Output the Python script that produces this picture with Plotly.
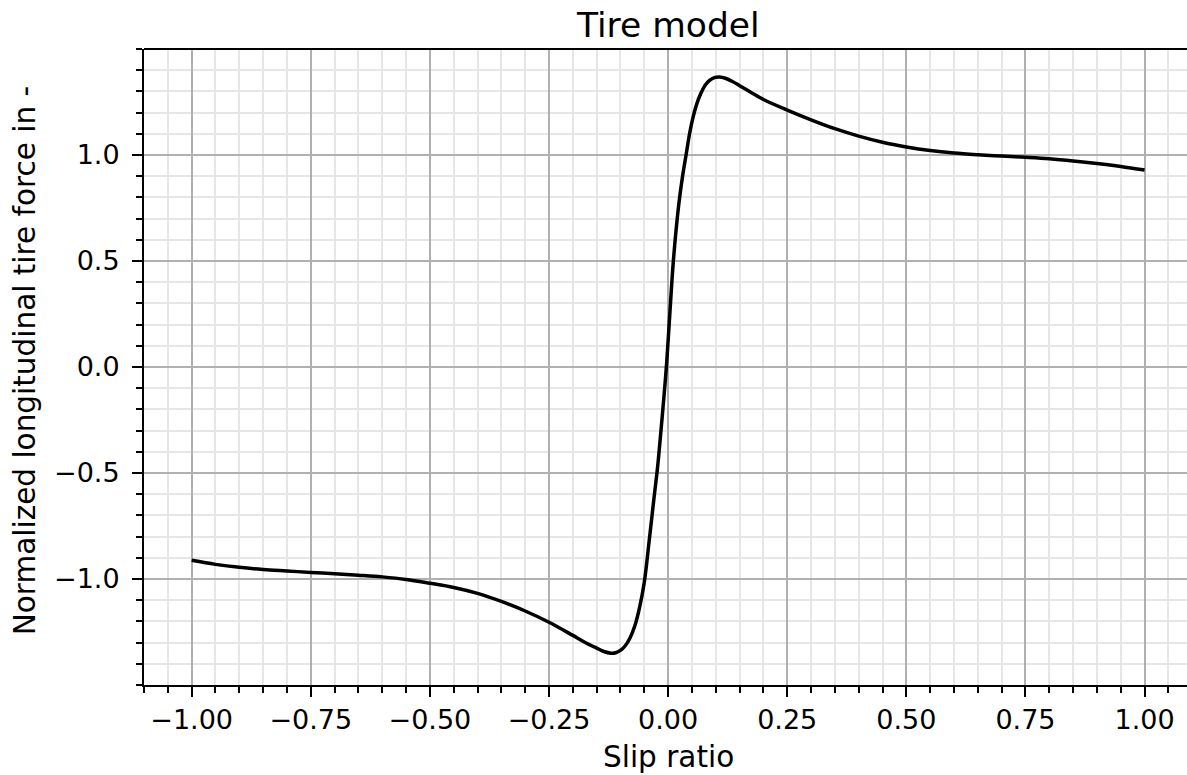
import plotly.graph_objects as go

# Slip ratio (x) and normalized longitudinal tire force (y)
slip = [-1.00, -0.95, -0.90, -0.85, -0.80, -0.75, -0.70, -0.65, -0.60, -0.55,
        -0.50, -0.45, -0.40, -0.35, -0.30, -0.25, -0.20, -0.175, -0.15, -0.135,
        -0.12, -0.11, -0.10, -0.09, -0.08, -0.07, -0.06, -0.05, -0.04, -0.03,
        -0.022, -0.015, -0.008, -0.003, 0.003, 0.011, 0.022, 0.030, 0.038, 0.045,
        0.052, 0.060, 0.069, 0.078, 0.087, 0.097, 0.108, 0.120, 0.135, 0.151,
        0.175, 0.20, 0.25, 0.30, 0.35, 0.40, 0.45, 0.50, 0.55, 0.60,
        0.65, 0.70, 0.75, 0.80, 0.85, 0.90, 0.95, 1.00]
force = [-0.912, -0.931, -0.945, -0.955, -0.962, -0.969, -0.975, -0.982, -0.990, -1.002,
         -1.020, -1.040, -1.068, -1.106, -1.151, -1.204, -1.266, -1.298, -1.326, -1.342,
         -1.350, -1.348, -1.337, -1.315, -1.278, -1.222, -1.135, -1.015, -0.825, -0.625,
         -0.470, -0.300, -0.120, 0.020, 0.230, 0.500, 0.760, 0.895, 1.005, 1.100,
         1.175, 1.240, 1.292, 1.330, 1.352, 1.365, 1.368, 1.362, 1.347, 1.326,
         1.294, 1.262, 1.212, 1.166, 1.124, 1.089, 1.060, 1.038, 1.021, 1.009,
         1.001, 0.995, 0.989, 0.982, 0.972, 0.960, 0.946, 0.929]

x_tickvals = [-1.00, -0.75, -0.50, -0.25, 0.00, 0.25, 0.50, 0.75, 1.00]
x_ticktext = ["\u22121.00", "\u22120.75", "\u22120.50", "\u22120.25", "0.00",
              "0.25", "0.50", "0.75", "1.00"]
y_tickvals = [-1.0, -0.5, 0.0, 0.5, 1.0]
y_ticktext = ["\u22121.0", "\u22120.5", "0.0", "0.5", "1.0"]

FONT = "DejaVu Sans"
MAJOR_GRID = "#b0b0b0"
MINOR_GRID = "#e6e6e6"

fig = go.Figure()
fig.add_trace(go.Scatter(
    x=slip, y=force, mode="lines",
    line=dict(color="black", width=3.5, shape="spline", smoothing=1.0),
    showlegend=False, hoverinfo="skip",
))

axis_common = dict(
    showline=True, linecolor="black", linewidth=2,
    ticks="outside", ticklen=10, tickwidth=2, tickcolor="black",
    showgrid=True, gridcolor=MAJOR_GRID, gridwidth=2,
    zeroline=False, tickfont=dict(family=FONT, size=27, color="black"),
)

fig.update_xaxes(
    range=[-1.100, 1.089], tickmode="array",
    tickvals=x_tickvals, ticktext=x_ticktext, ticklabelstandoff=0,
    minor=dict(tick0=0, dtick=0.05, ticks="outside", ticklen=6, tickwidth=1.5,
               tickcolor="black", showgrid=True, gridcolor=MINOR_GRID, gridwidth=1.5),
    **axis_common,
)
fig.update_yaxes(
    range=[-1.5, 1.5], tickmode="array",
    tickvals=y_tickvals, ticktext=y_ticktext, ticklabelstandoff=7,
    minor=dict(tick0=0, dtick=0.1, ticks="outside", ticklen=6, tickwidth=1.5,
               tickcolor="black", showgrid=True, gridcolor=MINOR_GRID, gridwidth=1.5),
    **axis_common,
)

# top spine of the axes box
fig.add_shape(type="line", xref="paper", yref="paper", x0=0, x1=1, y0=1, y1=1,
              line=dict(color="black", width=2))

fig.add_annotation(text="Tire model", xref="x", yref="paper", x=0, y=1,
                   yanchor="middle", yshift=24, showarrow=False,
                   font=dict(family=FONT, size=34.5, color="black"))
fig.add_annotation(text="Slip ratio", xref="x", yref="paper", x=0, y=0,
                   yanchor="middle", yshift=-72, showarrow=False,
                   font=dict(family=FONT, size=29.5, color="black"))
fig.add_annotation(text="Normalized longitudinal tire force in -", xref="paper",
                   yref="paper", x=0, y=0.509, xanchor="center", yanchor="middle",
                   xshift=-119, textangle=-90, showarrow=False,
                   font=dict(family=FONT, size=29.5, color="black"))

fig.update_layout(
    width=1187, height=775,
    margin=dict(l=144, r=0, t=49, b=90),
    plot_bgcolor="white", paper_bgcolor="white",
)

fig.write_html("out.html")
